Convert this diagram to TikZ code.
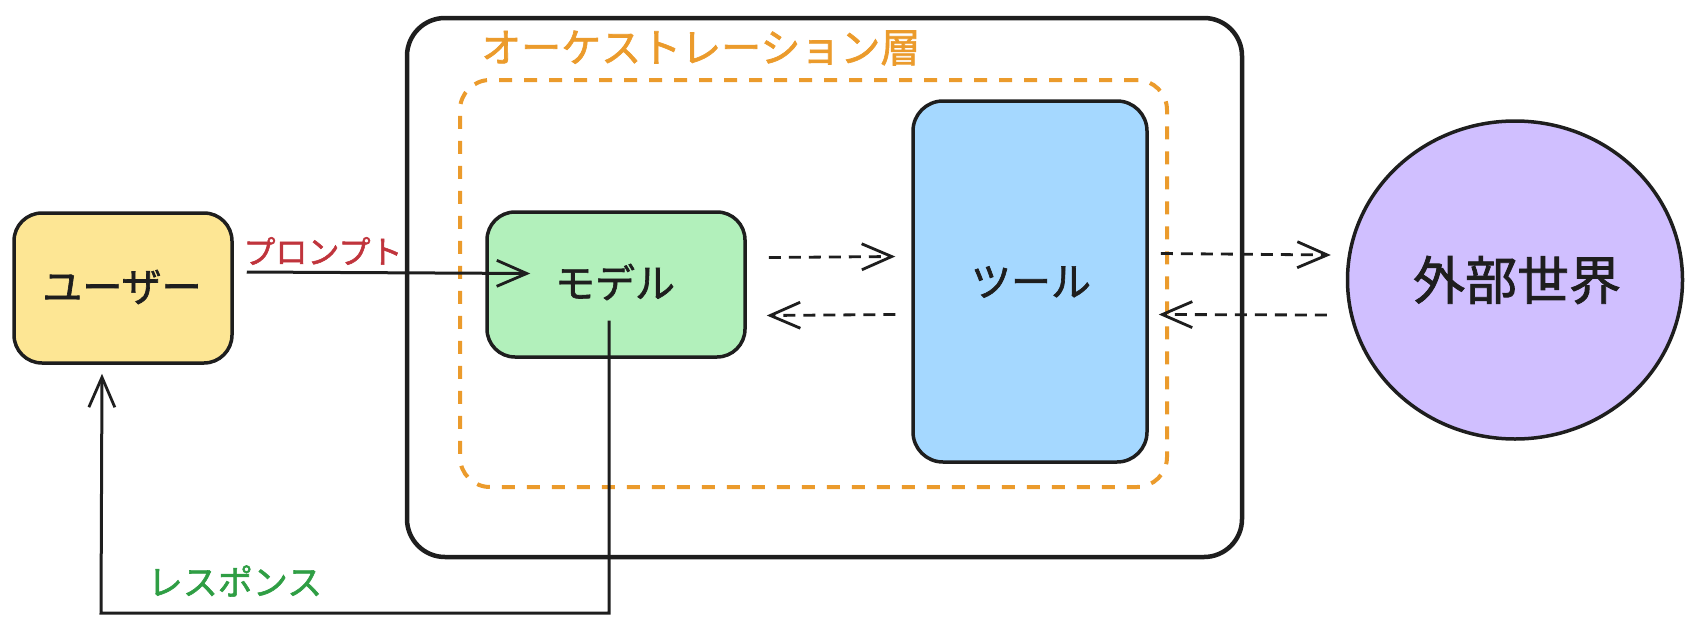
\documentclass[tikz,border=0pt]{standalone}
\usepackage{fontspec}
\setmainfont{Noto Sans CJK JP}[FakeBold=1.6]
\usetikzlibrary{arrows.meta,calc,shapes.geometric}
\definecolor{userfill}{HTML}{FDE694}
\definecolor{modelfill}{HTML}{B2F0BB}
\definecolor{toolfill}{HTML}{A5D8FF}
\definecolor{worldfill}{HTML}{D0BFFF}
\definecolor{orch}{HTML}{EB9B2C}
\definecolor{promptred}{HTML}{C0343C}
\definecolor{respgreen}{HTML}{2F9E44}
\definecolor{ink}{HTML}{1E1E1E}
\tikzset{
  box/.style={draw=ink, line width=3.5pt, rounded corners=28pt, inner sep=0pt},
  boxtext/.style={font=\fontsize{40}{44}\selectfont, text=ink},
  barb/.style={-{Straight Barb[length=30pt,width=26pt,line width=2.8pt]}},
  conn/.style={draw=ink, line width=3pt, barb},
  dconn/.style={draw=ink, line width=2.8pt, barb, dash pattern=on 12pt off 8pt},
}
\begin{document}
\begin{tikzpicture}[x=1pt,y=-1pt]
\useasboundingbox (0,0) rectangle (1696,624);

% orchestration layer
\node[draw=ink, line width=4.5pt, rounded corners=38pt, minimum width=835pt, minimum height=539pt, inner sep=0pt] (orchbox) at (824.5,287.5) {};
\node[anchor=west, inner sep=0pt, text=orch, font=\fontsize{40}{44}\selectfont] (title) at (481,48) {オーケストレーション層};
\node[draw=orch, line width=4pt, dash pattern=on 13pt off 12pt, rounded corners=30pt, minimum width=707pt, minimum height=407pt, inner sep=0pt] (orchin) at (813.5,283.5) {};

% nodes
\node[box, fill=userfill, minimum width=218pt, minimum height=150pt] (user) at (123,288) {};
\node[boxtext] (usertext) at (122,287) {ユーザー};

\node[box, fill=modelfill, minimum width=258pt, minimum height=145pt] (model) at (616,284.5) {};
\node[boxtext] (modeltext) at (615,282) {モデル};

\node[box, fill=toolfill, rounded corners=30pt, minimum width=234pt, minimum height=361pt] (tool) at (1030,281.5) {};
\node[boxtext] (tooltext) at (1031,282) {ツール};

\node[draw=ink, line width=3.5pt, fill=worldfill, ellipse, minimum width=335pt, minimum height=318pt, inner sep=0pt] (world) at (1515,280) {};
\node[font=\fontsize{52}{56}\selectfont, text=ink] (worldtext) at (1517,280) {外部世界};

% prompt
\draw[conn] ($(user.east)+(13,-16)$) -- ($(model.west)+(45,-11)$);
\node[text=promptred, font=\fontsize{32}{36}\selectfont, inner sep=0pt] (plabel) at (323,251) {プロンプト};

% model <-> tool
\draw[dconn] ($(model.east)+(22,-27)$) -- ($(tool.west)+(-16,-25)$);
\draw[dconn] ($(tool.west)+(-16,33)$) -- ($(model.east)+(20,31)$);

% tool <-> world
\draw[dconn] ($(tool.east)+(12,-28)$) -- ($(world.west)+(-15,-25)$);
\draw[dconn] ($(world.west)+(-19,35)$) -- ($(tool.east)+(10,33)$);

% response
\coordinate (rstart) at ($(model.center)+(-7,36)$);
\coordinate (rcorner) at (101,613);
\coordinate (rend) at ($(user.south)+(-21,9)$);
\draw[conn] (rstart) |- (rcorner) -- (rend);
\node[text=respgreen, font=\fontsize{35}{39}\selectfont, inner sep=0pt] (rlabel) at (235,581) {レスポンス};
\end{tikzpicture}
\end{document}
